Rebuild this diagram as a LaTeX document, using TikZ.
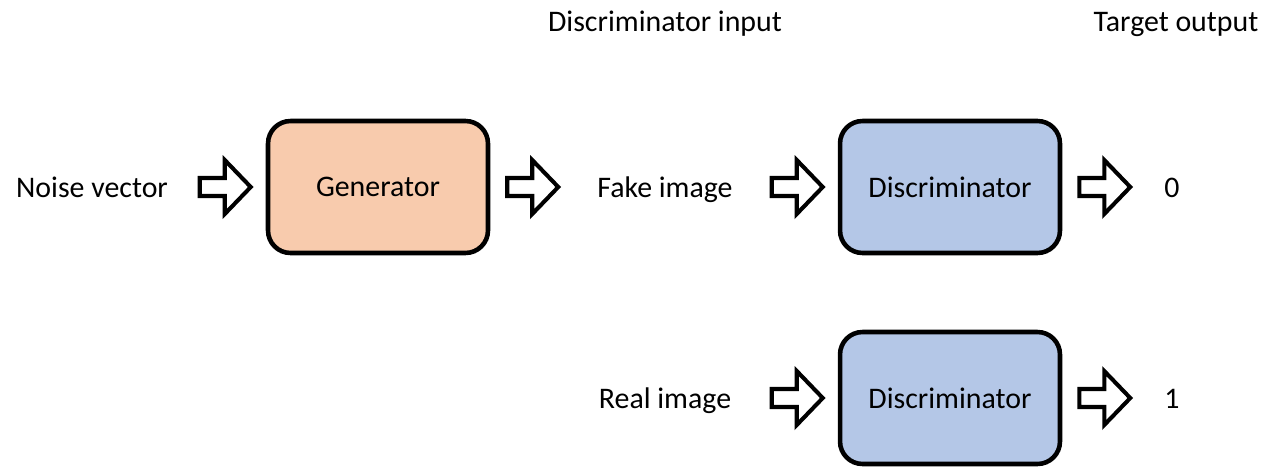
\documentclass[tikz,border=0pt]{standalone}
\usepackage{fontspec}
\setmainfont{Carlito}
\usepackage{tikz}
\usetikzlibrary{arrows.meta, positioning, calc}
\definecolor{genfill}{HTML}{F8CBAD}
\definecolor{discfill}{HTML}{B4C7E7}
\tikzset{
  box/.style={draw, line width=2.6pt, rectangle, rounded corners=0.45cm, minimum width=4.4cm, minimum height=2.64cm},
  gen/.style={box, fill=genfill},
  disc/.style={box, fill=discfill},
  label/.style={inner sep=0pt, anchor=base},
  blockarrow/.style={draw, fill=white, line width=2.3pt, line join=miter},
  % block arrow ending just before the target box
  into/.style={blockarrow, to path={let \p1=($(\tikztotarget.west)+(-0.3cm,0)$) in
    (\x1-1.02cm,\y1+0.18cm) -- (\x1-0.52cm,\y1+0.18cm) -- (\x1-0.52cm,\y1+0.54cm) -- (\x1,\y1)
    -- (\x1-0.52cm,\y1-0.54cm) -- (\x1-0.52cm,\y1-0.18cm) -- (\x1-1.02cm,\y1-0.18cm) -- cycle}},
  % block arrow starting just after the source box
  outof/.style={blockarrow, to path={let \p1=($(\tikztostart.east)+(0.34cm,0)$) in
    (\x1,\y1+0.18cm) -- (\x1+0.5cm,\y1+0.18cm) -- (\x1+0.5cm,\y1+0.54cm) -- (\x1+1.02cm,\y1)
    -- (\x1+0.5cm,\y1-0.54cm) -- (\x1+0.5cm,\y1-0.18cm) -- (\x1,\y1-0.18cm) -- cycle}},
}

\begin{document}
\begin{tikzpicture}[x=0.02cm, y=-0.02cm, font=\fontsize{17}{20}\selectfont]
  \useasboundingbox (0,0) rectangle (1280,474);

  \node[label] (inhead) at (665,31) {Discriminator input};
  \node[label] (outhead) at (1176,31) {Target output};

  \node[label] (noise) at (92,197) {Noise vector};
  \node[gen] (generator) at (378,187) {Generator};
  \node[label] (fake) at (665,197) {Fake image};
  \node[disc] (discfake) at (950,187) {Discriminator};
  \node[label] (zero) at (1172,197) {0};

  \node[label] (real) at (665,408) {Real image};
  \node[disc] (discreal) at (950,398) {Discriminator};
  \node[label] (one) at (1172,408) {1};

  \path[into] (noise) to (generator);
  \path[outof] (generator) to (fake);
  \path[into] (fake) to (discfake);
  \path[outof] (discfake) to (zero);
  \path[into] (real) to (discreal);
  \path[outof] (discreal) to (one);
\end{tikzpicture}
\end{document}
